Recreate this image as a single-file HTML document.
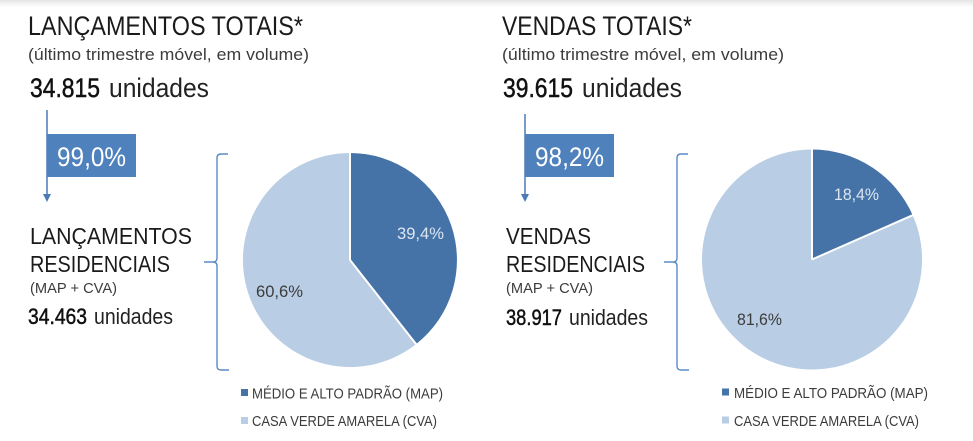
<!DOCTYPE html>
<html><head><meta charset="utf-8">
<style>
html,body{margin:0;padding:0;background:#fff;}
body{width:973px;height:441px;overflow:hidden;position:relative;}
.shadow{position:absolute;left:0;top:0;width:973px;height:7px;background:linear-gradient(#e4e4e4,#ffffff);}
svg{position:absolute;left:0;top:0;}
text{font-family:"Liberation Sans",sans-serif;}
</style></head>
<body>
<div class="shadow"></div>
<svg width="973" height="441" viewBox="0 0 973 441" xmlns="http://www.w3.org/2000/svg">
  <!-- LEFT PANEL -->
  <text x="28" y="35" font-size="27" fill="#1a1a1a" textLength="275" lengthAdjust="spacingAndGlyphs">LANÇAMENTOS TOTAIS*</text>
  <text x="28" y="60" font-size="17" fill="#3c3c3c" textLength="281" lengthAdjust="spacingAndGlyphs">(último trimestre móvel, em volume)</text>
  <text x="30" y="97" font-size="27" fill="#111" stroke="#111" stroke-width="0.5" textLength="70" lengthAdjust="spacingAndGlyphs">34.815</text>
  <text x="109" y="97" font-size="27" fill="#222" textLength="100" lengthAdjust="spacingAndGlyphs">unidades</text>

  <line x1="47" y1="110" x2="47" y2="196" stroke="#4a7bb5" stroke-width="1.5"/>
  <polygon points="43,194 51,194 47,202" fill="#4a7bb5"/>
  <rect x="47" y="134" width="89" height="43" fill="#4f81bd"/>
  <text x="57" y="166" font-size="27" fill="#fff" textLength="69" lengthAdjust="spacingAndGlyphs">99,0%</text>

  <text x="30" y="244" font-size="23" fill="#1a1a1a" textLength="162" lengthAdjust="spacingAndGlyphs">LANÇAMENTOS</text>
  <text x="30" y="272" font-size="23" fill="#1a1a1a" textLength="140" lengthAdjust="spacingAndGlyphs">RESIDENCIAIS</text>
  <text x="30" y="293" font-size="15" fill="#3c3c3c" textLength="87" lengthAdjust="spacingAndGlyphs">(MAP + CVA)</text>
  <text x="28" y="324" font-size="22" fill="#111" stroke="#111" stroke-width="0.5" textLength="59" lengthAdjust="spacingAndGlyphs">34.463</text>
  <text x="94" y="324" font-size="22" fill="#222" textLength="79" lengthAdjust="spacingAndGlyphs">unidades</text>

  <path d="M228,154 L221,154 Q217,154 217,158 L217,258 Q217,262 213,262 L204,262 M213,262 Q217,262 217,266 L217,366 Q217,370 221,370 L229,370" fill="none" stroke="#5b8ac6" stroke-width="1.4"/>

  <!-- left pie -->
  <path d="M350,260 L350,153 A107,107 0 0 1 416.1,344.1 Z" fill="#4572a7"/>
  <path d="M350,260 L416.1,344.1 A107,107 0 1 1 350,153 Z" fill="#b9cde5"/>
  <line x1="350" y1="260" x2="350" y2="152" stroke="#fff" stroke-width="2"/>
  <line x1="350" y1="260" x2="416.7" y2="344.9" stroke="#fff" stroke-width="2"/>
  <text x="397" y="239" font-size="17" fill="#dce6f2" textLength="47" lengthAdjust="spacingAndGlyphs">39,4%</text>
  <text x="256" y="297" font-size="17" fill="#3c3c3c" textLength="47" lengthAdjust="spacingAndGlyphs">60,6%</text>

  <rect x="241" y="389" width="7" height="7" fill="#4572a7"/>
  <text x="252" y="398.5" font-size="14.5" fill="#3c3c3c" textLength="191" lengthAdjust="spacingAndGlyphs">MÉDIO E ALTO PADRÃO (MAP)</text>
  <rect x="241" y="417" width="7" height="7" fill="#b9cde5"/>
  <text x="252" y="426" font-size="14.5" fill="#3c3c3c" textLength="185" lengthAdjust="spacingAndGlyphs">CASA VERDE AMARELA (CVA)</text>

  <!-- RIGHT PANEL -->
  <text x="502" y="35" font-size="27" fill="#1a1a1a" textLength="190" lengthAdjust="spacingAndGlyphs">VENDAS TOTAIS*</text>
  <text x="502" y="60" font-size="17" fill="#3c3c3c" textLength="282" lengthAdjust="spacingAndGlyphs">(último trimestre móvel, em volume)</text>
  <text x="503" y="97" font-size="27" fill="#111" stroke="#111" stroke-width="0.5" textLength="70" lengthAdjust="spacingAndGlyphs">39.615</text>
  <text x="582" y="97" font-size="27" fill="#222" textLength="100" lengthAdjust="spacingAndGlyphs">unidades</text>

  <line x1="525" y1="114" x2="525" y2="196" stroke="#4a7bb5" stroke-width="1.5"/>
  <polygon points="521,194 529,194 525,202" fill="#4a7bb5"/>
  <rect x="525" y="134" width="89" height="43" fill="#4f81bd"/>
  <text x="535" y="166" font-size="27" fill="#fff" textLength="69" lengthAdjust="spacingAndGlyphs">98,2%</text>

  <text x="506" y="244" font-size="23" fill="#1a1a1a" textLength="85" lengthAdjust="spacingAndGlyphs">VENDAS</text>
  <text x="506" y="272" font-size="23" fill="#1a1a1a" textLength="139" lengthAdjust="spacingAndGlyphs">RESIDENCIAIS</text>
  <text x="506" y="293" font-size="15" fill="#3c3c3c" textLength="87" lengthAdjust="spacingAndGlyphs">(MAP + CVA)</text>
  <text x="506" y="325" font-size="22" fill="#111" stroke="#111" stroke-width="0.5" textLength="56" lengthAdjust="spacingAndGlyphs">38.917</text>
  <text x="569" y="325" font-size="22" fill="#222" textLength="79" lengthAdjust="spacingAndGlyphs">unidades</text>

  <path d="M688,154 L681,154 Q677,154 677,158 L677,258 Q677,262 673,262 L664,262 M673,262 Q677,262 677,266 L677,366 Q677,370 681,370 L689,370" fill="none" stroke="#5b8ac6" stroke-width="1.4"/>

  <!-- right pie -->
  <path d="M812,259.5 L812,149.5 A110,110 0 0 1 912.7,215.2 Z" fill="#4572a7"/>
  <path d="M812,259.5 L912.7,215.2 A110,110 0 1 1 812,149.5 Z" fill="#b9cde5"/>
  <line x1="812" y1="259.5" x2="812" y2="148.5" stroke="#fff" stroke-width="2"/>
  <line x1="812" y1="259.5" x2="913.6" y2="214.8" stroke="#fff" stroke-width="2"/>
  <text x="834" y="200" font-size="17" fill="#dce6f2" textLength="45" lengthAdjust="spacingAndGlyphs">18,4%</text>
  <text x="737" y="325" font-size="17" fill="#3c3c3c" textLength="45" lengthAdjust="spacingAndGlyphs">81,6%</text>

  <rect x="722" y="388.5" width="7" height="7" fill="#4572a7"/>
  <text x="734" y="398" font-size="14.5" fill="#3c3c3c" textLength="194" lengthAdjust="spacingAndGlyphs">MÉDIO E ALTO PADRÃO (MAP)</text>
  <rect x="722" y="416.5" width="7" height="7" fill="#b9cde5"/>
  <text x="734" y="426" font-size="14.5" fill="#3c3c3c" textLength="185" lengthAdjust="spacingAndGlyphs">CASA VERDE AMARELA (CVA)</text>
</svg>
</body></html>
